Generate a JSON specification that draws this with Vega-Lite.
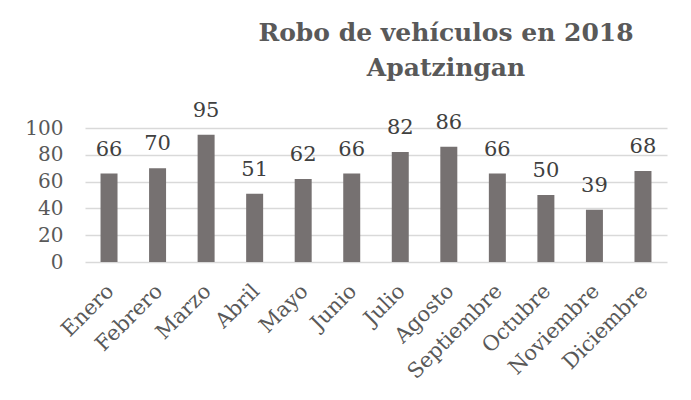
{
  "$schema": "https://vega.github.io/schema/vega-lite/v6.json",
  "width": 582,
  "height": 134,
  "autosize": {"type": "none"},
  "padding": {"left": 85, "top": 128, "right": 24, "bottom": 138},
  "background": "white",
  "title": {
    "text": ["Robo de vehículos en 2018", "Apatzingan"],
    "font": "DejaVu Serif",
    "fontSize": 25,
    "fontWeight": "bold",
    "color": "#595959",
    "anchor": "middle",
    "dx": 70,
    "offset": 19,
    "lineHeight": 35
  },
  "data": {
    "values": [
      {"mes": "Enero", "robos": 66},
      {"mes": "Febrero", "robos": 70},
      {"mes": "Marzo", "robos": 95},
      {"mes": "Abril", "robos": 51},
      {"mes": "Mayo", "robos": 62},
      {"mes": "Junio", "robos": 66},
      {"mes": "Julio", "robos": 82},
      {"mes": "Agosto", "robos": 86},
      {"mes": "Septiembre", "robos": 66},
      {"mes": "Octubre", "robos": 50},
      {"mes": "Noviembre", "robos": 39},
      {"mes": "Diciembre", "robos": 68}
    ]
  },
  "encoding": {
    "x": {
      "field": "mes",
      "type": "nominal",
      "sort": null,
      "title": null,
      "scale": {"paddingInner": 0.65, "paddingOuter": 0.32},
      "axis": {
        "labelAngle": -45,
        "labelAlign": "right",
        "labelBaseline": "top",
        "labelFont": "DejaVu Serif",
        "labelFontSize": 21,
        "labelColor": "#595959",
        "labelPadding": 18,
        "labelOffset": -6,
        "labelOverlap": false,
        "ticks": false,
        "domain": false
      }
    },
    "y": {
      "field": "robos",
      "type": "quantitative",
      "title": null,
      "scale": {"domain": [0, 100]},
      "axis": {
        "values": [0, 20, 40, 60, 80, 100],
        "labelFont": "DejaVu Serif",
        "labelFontSize": 20,
        "labelColor": "#595959",
        "labelPadding": 22,
        "ticks": false,
        "domain": false,
        "gridColor": "#d9d9d9",
        "gridWidth": 1.3
      }
    }
  },
  "layer": [
    {"mark": {"type": "bar", "color": "#767171"}},
    {
      "mark": {
        "type": "text",
        "baseline": "bottom",
        "dy": -14,
        "font": "DejaVu Serif",
        "fontSize": 21,
        "color": "#404040"
      },
      "encoding": {"text": {"field": "robos", "type": "quantitative"}}
    }
  ],
  "config": {"view": {"stroke": null}}
}
